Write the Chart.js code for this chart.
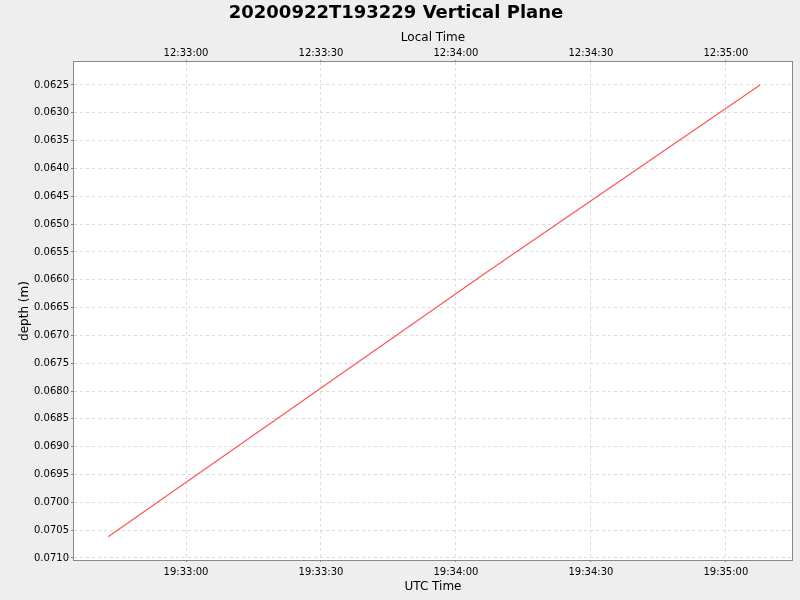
<!DOCTYPE html>
<html>
<head>
<meta charset="utf-8">
<script src="https://cdn.jsdelivr.net/npm/chart.js@4"></script>
<style>
html,body{margin:0;padding:0;background:#eeeeee;}
canvas{display:block;}
</style>
</head>
<body>
<canvas id="c" width="800" height="600"></canvas>
<script>
const titleText = "20200922T193229 Vertical Plane";
const utcTimes = ["19:32:42.7", "19:34:07.3", "19:35:07.6"];
const depths = [0.07062, 0.06584, 0.06250];
const utcTickLabels = ["19:33:00", "19:33:30", "19:34:00", "19:34:30", "19:35:00"];
const localTickLabels = ["12:33:00", "12:33:30", "12:34:00", "12:34:30", "12:35:00"];
const xRange = ["19:32:35.1", "19:35:14.7"];
const depthTicks = [0.0625,0.0630,0.0635,0.0640,0.0645,0.0650,0.0655,0.0660,0.0665,0.0670,0.0675,0.0680,0.0685,0.0690,0.0695,0.0700,0.0705,0.0710];
const depthRange = [0.062087, 0.071036];

function toSec(s){
  const p = s.split(":").map(Number);
  return p[0]*3600 + p[1]*60 + p[2];
}
const utcTickSecs = utcTickLabels.map(toSec);
const pts = utcTimes.map((t,i)=>({x: toSec(t), y: depths[i]}));
const FONT = "'DejaVu Sans', sans-serif";

const bgPlugin = {
  id: 'bg',
  beforeDraw(chart){
    const ctx = chart.ctx, a = chart.chartArea;
    ctx.save();
    ctx.fillStyle = '#eeeeee';
    ctx.fillRect(0,0,chart.width,chart.height);
    ctx.fillStyle = '#ffffff';
    ctx.fillRect(a.left, a.top, a.right-a.left, a.bottom-a.top);
    ctx.restore();
  },
  afterDraw(chart){
    const ctx = chart.ctx, a = chart.chartArea;
    ctx.save();
    ctx.strokeStyle = '#888888';
    ctx.lineWidth = 1;
    ctx.strokeRect(Math.round(a.left)-0.5, Math.round(a.top)-0.5, Math.round(a.right-a.left)+1, Math.round(a.bottom-a.top)+1);
    ctx.restore();
  }
};

const tickFont = {family: FONT, size: 10};
const titleFont = {family: FONT, size: 12};
const TITLE_H = 18*1.2 + 5;

new Chart(document.getElementById('c'), {
  type: 'line',
  data: {
    datasets: [{
      data: pts,
      xAxisID: 'x',
      yAxisID: 'y',
      borderColor: 'rgb(255,85,85)',
      borderWidth: 1.2,
      pointRadius: 0,
      tension: 0,
      fill: false
    }]
  },
  options: {
    responsive: false,
    animation: false,
    devicePixelRatio: 1,
    layout: {padding: {left: 0, right: 8, top: 0, bottom: 0}},
    plugins: {
      legend: {display: false},
      tooltip: {enabled: false},
      title: {
        display: true,
        text: titleText,
        color: '#000000',
        font: {family: FONT, size: 18, weight: 'bold'},
        padding: {top: 3, bottom: 2}
      }
    },
    scales: {
      x: {
        type: 'linear',
        position: 'bottom',
        min: toSec(xRange[0]),
        max: toSec(xRange[1]),
        afterBuildTicks: ax => { ax.ticks = utcTickSecs.map(v=>({value:v})); },
        afterFit: ax => { ax.height = 40; },
        ticks: {
          color: '#000000', font: tickFont, padding: 4, maxRotation: 0, autoSkip: false,
          callback: (v, i) => utcTickLabels[i]
        },
        grid: {color: '#dcdcdc', tickColor: '#888888', tickLength: 2, lineWidth: 1, tickBorderDash: []},
        border: {display: false, dash: [3,3]},
        title: {display: true, text: 'UTC Time', color: '#000000', font: titleFont, padding: {top: 0, bottom: 6}}
      },
      x2: {
        type: 'linear',
        position: 'top',
        min: toSec(xRange[0]),
        max: toSec(xRange[1]),
        afterBuildTicks: ax => { ax.ticks = utcTickSecs.map(v=>({value:v})); },
        afterFit: ax => { ax.height = 62 - TITLE_H; },
        ticks: {
          color: '#000000', font: tickFont, padding: 1, maxRotation: 0, autoSkip: false,
          callback: (v, i) => localTickLabels[i]
        },
        grid: {drawOnChartArea: false, color: '#dcdcdc', tickColor: '#888888', tickLength: 2, tickBorderDash: []},
        border: {display: false},
        title: {display: true, text: 'Local Time', color: '#000000', font: titleFont, padding: {top: 4, bottom: 0}}
      },
      y: {
        type: 'linear',
        position: 'left',
        reverse: true,
        min: depthRange[0],
        max: depthRange[1],
        afterBuildTicks: ax => { ax.ticks = depthTicks.map(v=>({value:v})); },
        afterFit: ax => { ax.width = 74; },
        ticks: {
          color: '#000000', font: tickFont, padding: 2, autoSkip: false,
          callback: v => v.toFixed(4)
        },
        grid: {color: '#dcdcdc', tickColor: '#888888', tickLength: 3, lineWidth: 1, tickBorderDash: []},
        border: {display: false, dash: [3,3]},
        title: {display: true, text: 'depth (m)', color: '#000000', font: titleFont, padding: {top: 18, bottom: 0}}
      }
    }
  },
  plugins: [bgPlugin]
});
</script>
</body>
</html>
